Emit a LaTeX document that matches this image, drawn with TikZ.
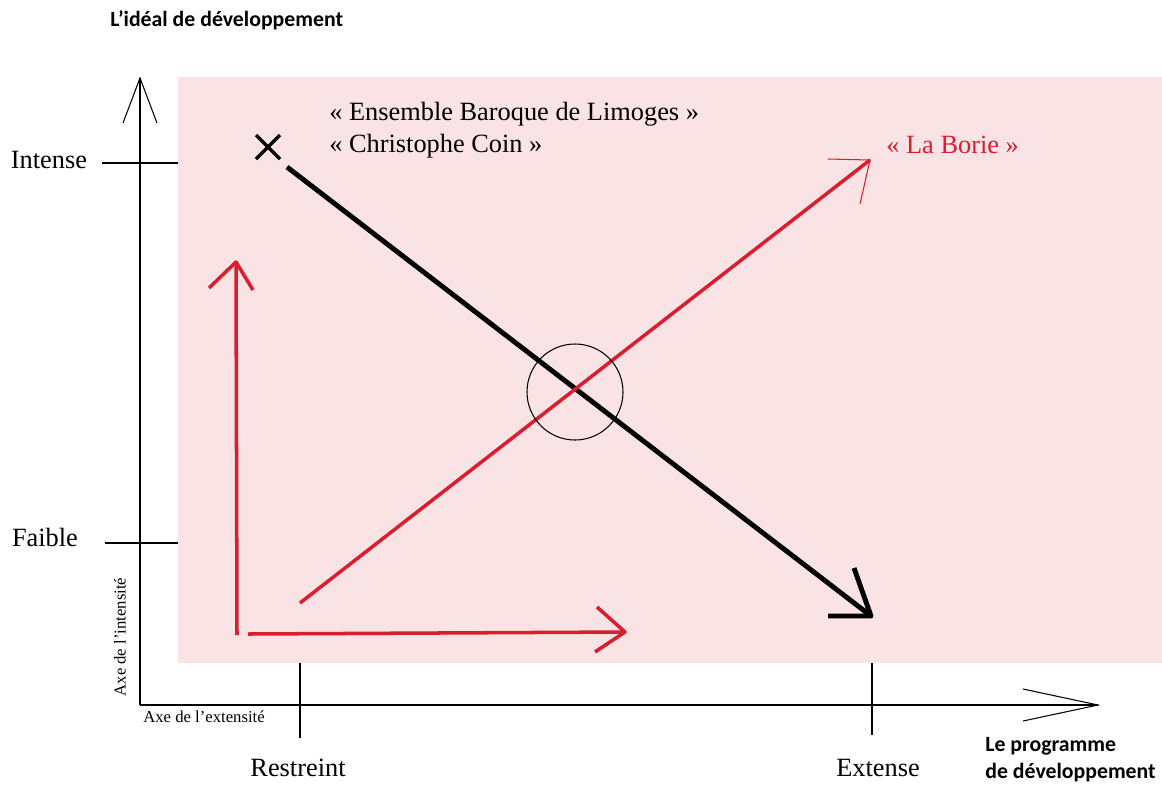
\documentclass[tikz,border=0pt]{standalone}
\usepackage{fontspec}
\setmainfont{Liberation Serif}
\newfontfamily\titlefont{Carlito}
\usepackage{tikz}
\usetikzlibrary{positioning}
\definecolor{bgpink}{RGB}{250,227,229}
\definecolor{borie}{RGB}{217,30,48}

\begin{document}
\begin{tikzpicture}[x=0.02cm, y=-0.02cm,
    axis/.style={line width=1.3pt},
    tick/.style={line width=0.9pt},
    label/.style={font=\fontsize{15}{18}\selectfont, inner sep=0pt},
    title/.style={font=\titlefont\bfseries\fontsize{12.4}{15.5}\selectfont, inner sep=0pt, align=left},
    small/.style={font=\fontsize{9.5}{11}\selectfont, inner sep=0pt}]
    \useasboundingbox (0,0) rectangle (1162,785);

    % Background
    \fill[bgpink] (178,77) rectangle (1162,663);

    % Axes
    \coordinate (O) at (140,705);
    \coordinate (ytop) at (140,78);
    \coordinate (xend) at (1098,705);
    \draw[axis] (O) -- (ytop);
    \draw[axis] (O) -- (xend);
    \draw[line width=0.6pt] (123,123) -- (ytop) -- (157,123);
    \draw[line width=0.6pt] (1023,689) -- (xend) -- (1023,721);

    % Ticks and labels
    \draw[tick] (102,163) -- (178,163);
    \draw[tick] (105,543) -- (178,543);
    \draw[tick] (300,663) -- (300,738);
    \draw[tick] (872,663) -- (872,735);
    \node[label] (intense) at (49,160) {Intense};
    \node[label] (faible) at (45,537) {Faible};
    \node[label] (restreint) at (298,768) {Restreint};
    \node[label] (extense) at (878,768) {Extense};
    \node[small, rotate=90] (intensite) at (120,637) {Axe de l’intensité};
    \node[small] (extensite) at (204,717) {Axe de l'extensité};

    % Titles
    \node[title, anchor=west] (ideal) at (110,20) {L’idéal de développement};
    \node[title, anchor=west] (programme) at (985,760) {Le programme\\de développement};

    % Black trajectory
    \coordinate (ebl) at (268,147);
    \coordinate (bstart) at (287,167);
    \coordinate (btip) at (871,616);
    \draw[line width=2pt] (256,135) -- (280,159) (256,159) -- (280,135);
    \draw[line width=2.8pt] (bstart) -- (btip);
    \draw[line width=2.8pt, line join=round] (828,616) -- (btip) -- (854,568);
    \node[label, anchor=west, align=left] (ensemble) at (329,130)
        {« Ensemble Baroque de Limoges »\\« Christophe Coin »};

    % Red trajectory
    \coordinate (rstart) at (300,603);
    \coordinate (rtip) at (870,160);
    \draw[borie, line width=2pt] (rstart) -- (rtip);
    \draw[borie, line width=0.6pt] (828,159) -- (rtip) -- (860,204);
    \node[label, text=borie, anchor=west] (borie) at (886,145) {« La Borie »};

    % Red axes
    \coordinate (vbase) at (237,635);
    \coordinate (vtip) at (236,262);
    \coordinate (hbase) at (248,634);
    \coordinate (htip) at (625,632);
    \draw[borie, line width=2pt] (vbase) -- (vtip);
    \draw[borie, line width=2pt, line join=round] (209,288) -- (vtip) -- (253,290);
    \draw[borie, line width=2pt] (hbase) -- (htip);
    \draw[borie, line width=2pt, line join=round] (597,607) -- (htip) -- (595,652);

    % Crossing
    \draw[line width=0.6pt] (575,392) circle [radius=48];
\end{tikzpicture}
\end{document}
